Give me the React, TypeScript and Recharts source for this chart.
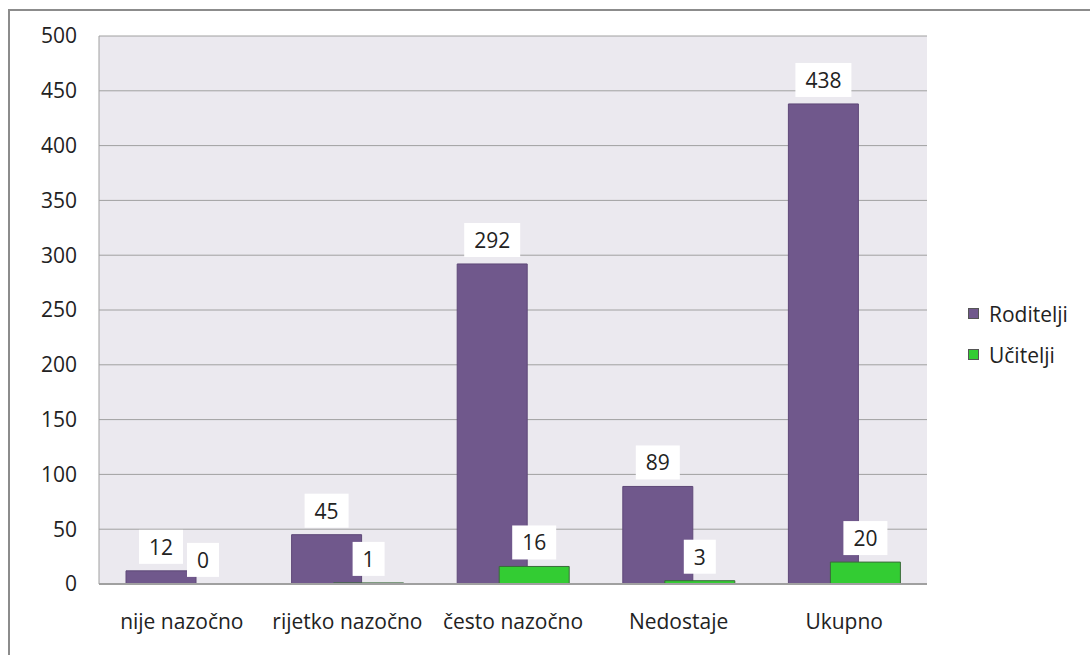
import { BarChart, Bar, XAxis, YAxis, CartesianGrid, LabelList, Cell } from "recharts";

const categories = ["nije nazočno", "rijetko nazočno", "često nazočno", "Nedostaje", "Ukupno"];
const roditelji = [12, 45, 292, 89, 438];
const ucitelji = [0, 1, 16, 3, 20];
const yTicks = [0, 50, 100, 150, 200, 250, 300, 350, 400, 450, 500];
const seriesNames = ["Roditelji", "Učitelji"];
const seriesColors = ["#70588C", "#33CC33"];

const data = categories.map((name, i) => ({
  name,
  roditelji: roditelji[i],
  ucitelji: ucitelji[i],
}));

const FONT = "'Open Sans', 'DejaVu Sans', sans-serif";

function BoxLabel(props: any) {
  const { x, y, width, value } = props;
  const text = String(value);
  const w = text.length * 12 + 20;
  const h = 34;
  const cx = x + width / 2;
  const bottom = y - 7;
  return (
    <g>
      <rect x={cx - w / 2} y={bottom - h} width={w} height={h} fill="#ffffff" />
      <text
        x={cx}
        y={bottom - h / 2}
        textAnchor="middle"
        dominantBaseline="central"
        fontSize={21}
        fontFamily={FONT}
        fill="#222"
      >
        {text}
      </text>
    </g>
  );
}

export default function App() {
  return (
    <div style={{ position: "absolute", left: 0, top: 0, width: 1090, height: 655, background: "#fff" }}>
      <div
        style={{
          position: "absolute",
          left: 8,
          top: 9,
          width: 1090,
          height: 660,
          border: "2px solid #8c8c8c",
          boxSizing: "border-box",
        }}
      />
      <BarChart
        width={1090}
        height={655}
        data={data}
        margin={{ top: 36, right: 163, bottom: 0, left: 38 }}
        barSize={70}
        barGap={-28}
        style={{ position: "absolute", left: 0, top: 0 }}
      >
        <CartesianGrid vertical={false} stroke="#a0a0a0" fill="#EBE9EF" />
        <XAxis
          dataKey="name"
          height={71}
          tickLine={false}
          axisLine={{ stroke: "#a0a0a0", strokeWidth: 2 }}
          tickSize={0}
          tickMargin={30}
          tick={{ fontSize: 21, fontFamily: FONT, fill: "#222" }}
          interval={0}
        />
        <YAxis
          width={61}
          domain={[0, 500]}
          ticks={yTicks}
          tickLine={false}
          axisLine={{ stroke: "#a0a0a0" }}
          tickSize={0}
          tickMargin={22}
          tick={{ fontSize: 21, fontFamily: FONT, fill: "#222" }}
        />
        <Bar
          dataKey="roditelji"
          name={seriesNames[0]}
          fill={seriesColors[0]}
          stroke="#5e4878"
          minPointSize={(v: any) => (v === 0 ? 0.1 : 0)}
          isAnimationActive={false}
        >
          {roditelji.map((v, i) => (
            <Cell key={i} stroke={v === 0 ? "none" : "#5e4878"} />
          ))}
          <LabelList dataKey="roditelji" content={BoxLabel} />
        </Bar>
        <Bar
          dataKey="ucitelji"
          name={seriesNames[1]}
          fill={seriesColors[1]}
          minPointSize={(v: any) => (v === 0 ? 0.1 : 0)}
          isAnimationActive={false}
        >
          {ucitelji.map((v, i) => (
            <Cell key={i} stroke={v === 0 ? "none" : "#3a6a3a"} fill={v === 0 ? "none" : seriesColors[1]} />
          ))}
          <LabelList dataKey="ucitelji" content={BoxLabel} />
        </Bar>
      </BarChart>
      <div style={{ position: "absolute", left: 968, top: 293, fontFamily: FONT, fontSize: 21, color: "#222" }}>
        {seriesNames.map((n, i) => (
          <div key={n} style={{ display: "flex", alignItems: "center", height: 41 }}>
            <span
              style={{
                width: 11,
                height: 11,
                background: seriesColors[i],
                border: "1px solid #555",
                boxSizing: "border-box",
                marginRight: 10,
              }}
            />
            {n}
          </div>
        ))}
      </div>
    </div>
  );
}
